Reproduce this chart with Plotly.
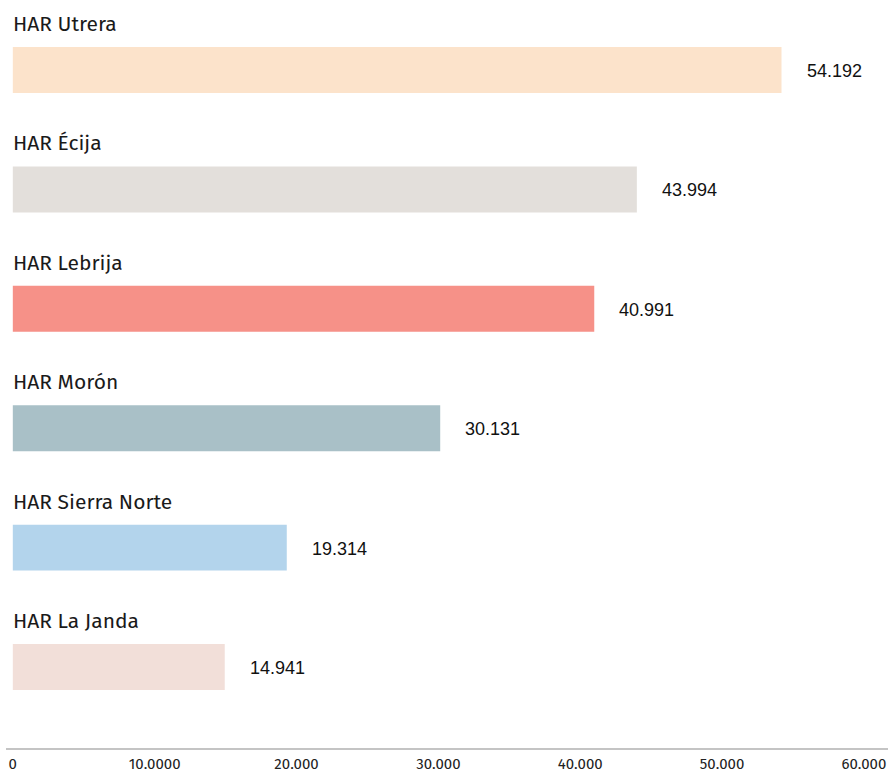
import plotly.graph_objects as go

categories = ["HAR Utrera", "HAR Écija", "HAR Lebrija", "HAR Morón", "HAR Sierra Norte", "HAR La Janda"]
values = [54192, 43994, 40991, 30131, 19314, 14941]
colors = ["#FCE3CB", "#E3DFDB", "#F69188", "#A9C0C7", "#B3D4EC", "#F2DFD9"]
tick_vals = [0, 10000, 20000, 30000, 40000, 50000, 60000]
tick_text = ["0", "10.0000", "20.000", "30.000", "40.000", "50.000", "60.000"]

pos = list(range(len(categories)))
fmt = lambda v: f"{v:,}".replace(",", ".")

fig = go.Figure()
fig.add_trace(go.Bar(
    y=pos, x=values, orientation="h",
    marker=dict(color=colors, line=dict(width=0)),
    width=0.385, hoverinfo="skip", showlegend=False,
))

ann = []
for p, c, v in zip(pos, categories, values):
    ann.append(dict(x=0, y=p, xref="x", yref="y", text=c, showarrow=False,
                    xanchor="left", yanchor="middle", yshift=46, xshift=-2,
                    font=dict(family="Fira Sans, Roboto, Noto Sans, sans-serif", size=21, color="#1a1a1a")))
    ann.append(dict(x=v, y=p, xref="x", yref="y", text=fmt(v), showarrow=False,
                    xanchor="left", yanchor="middle", xshift=23, yshift=-1,
                    font=dict(family="Liberation Sans, Arial, sans-serif", size=18, color="#111")))

fig.update_layout(
    width=891, height=774,
    margin=dict(l=6, r=3, t=10, b=26),
    paper_bgcolor="white", plot_bgcolor="white",
    annotations=ann,
    xaxis=dict(range=[-480, 61700], tickvals=tick_vals, ticktext=tick_text, automargin=False,
               showgrid=False, zeroline=False, showline=True, linecolor="#C4C4C4", linewidth=1.5,
               ticks="", ticklen=0, ticklabelstandoff=1,
               tickfont=dict(family="Fira Sans, Roboto, Noto Sans, sans-serif", size=15, color="#222")),
    yaxis=dict(range=[5.678, -0.5025], visible=False, showgrid=False, zeroline=False, automargin=False),
)

fig.write_html("out.html", config={"displayModeBar": False},
               post_script="document.body.style.margin='0';")
